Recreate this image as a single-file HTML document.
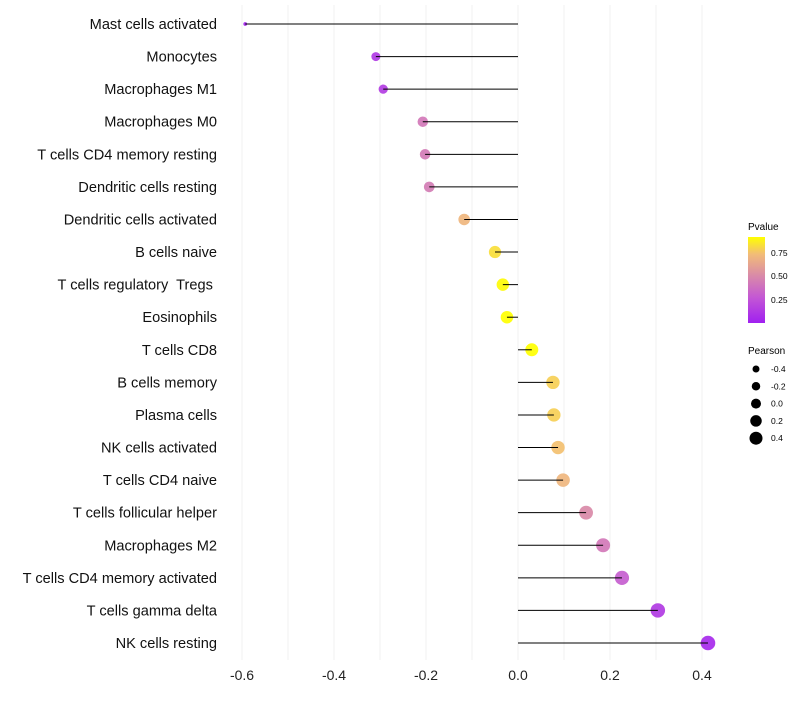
<!DOCTYPE html>
<html><head><meta charset="utf-8"><style>
body{margin:0;background:#fff}
text{font-family:"Liberation Sans",sans-serif;white-space:pre}
</style></head><body>
<svg id="chart" width="800" height="700">
<defs><linearGradient id="pg" x1="0" y1="1" x2="0" y2="0">
<stop offset="0" stop-color="#a020f0"/><stop offset="0.3" stop-color="#c458d4"/><stop offset="0.55" stop-color="#d98aa8"/><stop offset="0.8" stop-color="#f2bc78"/><stop offset="1" stop-color="#ffff00"/></linearGradient></defs>
<g id="grid"></g><g id="pts"></g><g id="marks"></g><g id="ylab"></g><g id="xlab"></g>
<g>
<text x="748" y="230" font-size="10">Pvalue</text>
<rect x="748" y="237" width="17" height="86" fill="url(#pg)"/>
<text x="771" y="256" font-size="8.5">0.75</text>
<text x="771" y="279" font-size="8.5">0.50</text>
<text x="771" y="303" font-size="8.5">0.25</text>
</g>
<g id="sizeleg">
<text x="748" y="354" font-size="10">Pearson</text>
</g>
</svg>
<script>
const categories=["Mast cells activated","Monocytes","Macrophages M1","Macrophages M0","T cells CD4 memory resting","Dendritic cells resting","Dendritic cells activated","B cells naive","T cells regulatory  Tregs ","Eosinophils","T cells CD8","B cells memory","Plasma cells","NK cells activated","T cells CD4 naive","T cells follicular helper","Macrophages M2","T cells CD4 memory activated","T cells gamma delta","NK cells resting"];
const pearson=[-0.593,-0.309,-0.293,-0.207,-0.202,-0.193,-0.117,-0.05,-0.033,-0.024,0.030,0.076,0.078,0.087,0.098,0.148,0.185,0.226,0.304,0.413];
const pvalue=[0.02,0.12,0.14,0.42,0.43,0.44,0.7,0.82,0.9,0.92,0.95,0.78,0.78,0.74,0.7,0.5,0.42,0.3,0.13,0.05];
const xticks=[-0.6,-0.4,-0.2,0.0,0.2,0.4];
const legendVals=[-0.4,-0.2,0.0,0.2,0.4];
const NS="http://www.w3.org/2000/svg";
const x=v=>518+v*460;
const y=i=>24+i*(619/19);
const r=v=>7.3-5.5*Math.pow((0.42-v)/1.02,2);
function col(p){const t=Math.max(0,Math.min(1,p/0.91));
const s=[[0,[160,32,240]],[0.3,[196,88,212]],[0.55,[217,138,168]],[0.8,[242,188,120]],[1,[255,255,0]]];
for(let k=1;k<s.length;k++){if(t<=s[k][0]){const a=s[k-1],b=s[k],f=(t-a[0])/(b[0]-a[0]);
return `rgb(${a[1].map((c,j)=>Math.round(c+(b[1][j]-c)*f)).join(",")})`;}}return "rgb(255,255,0)";}
function mk(tag,at,parent){const e=document.createElementNS(NS,tag);for(const k in at)e.setAttribute(k,at[k]);document.getElementById(parent).appendChild(e);return e;}
for(let v=-0.6;v<=0.41;v+=0.1){const g=mk("line",{x1:x(v),x2:x(v),y1:5,y2:660,stroke:"#f0f0f0","stroke-width":1},"grid");

}
xticks.forEach(t=>{const e=mk("text",{x:x(t),y:680,"font-size":14,"text-anchor":"middle",fill:"#222"},"xlab");e.textContent=t.toFixed(1);

});
categories.forEach((c,i)=>{
const t=mk("text",{x:217,y:y(i)+5,"font-size":14.6,"text-anchor":"end",fill:"#111"},"ylab");t.textContent=c;


const p=mk("circle",{cx:x(pearson[i]),cy:y(i),r:r(pearson[i]),fill:col(pvalue[i]),"fill-opacity":0.92},"pts");


const l=mk("line",{x1:x(0),x2:x(pearson[i]),y1:y(i),y2:y(i),stroke:"#000","stroke-width":1},"marks");


});
legendVals.forEach((v,k)=>{const cy=369+k*17.3;
const c=mk("circle",{cx:756,cy:cy,r:3.5+k*0.75,fill:"#000"},"sizeleg");


const t=mk("text",{x:771,y:cy+3,"font-size":8.5},"sizeleg");t.textContent=v.toFixed(1);

});
</script>
</body></html>
